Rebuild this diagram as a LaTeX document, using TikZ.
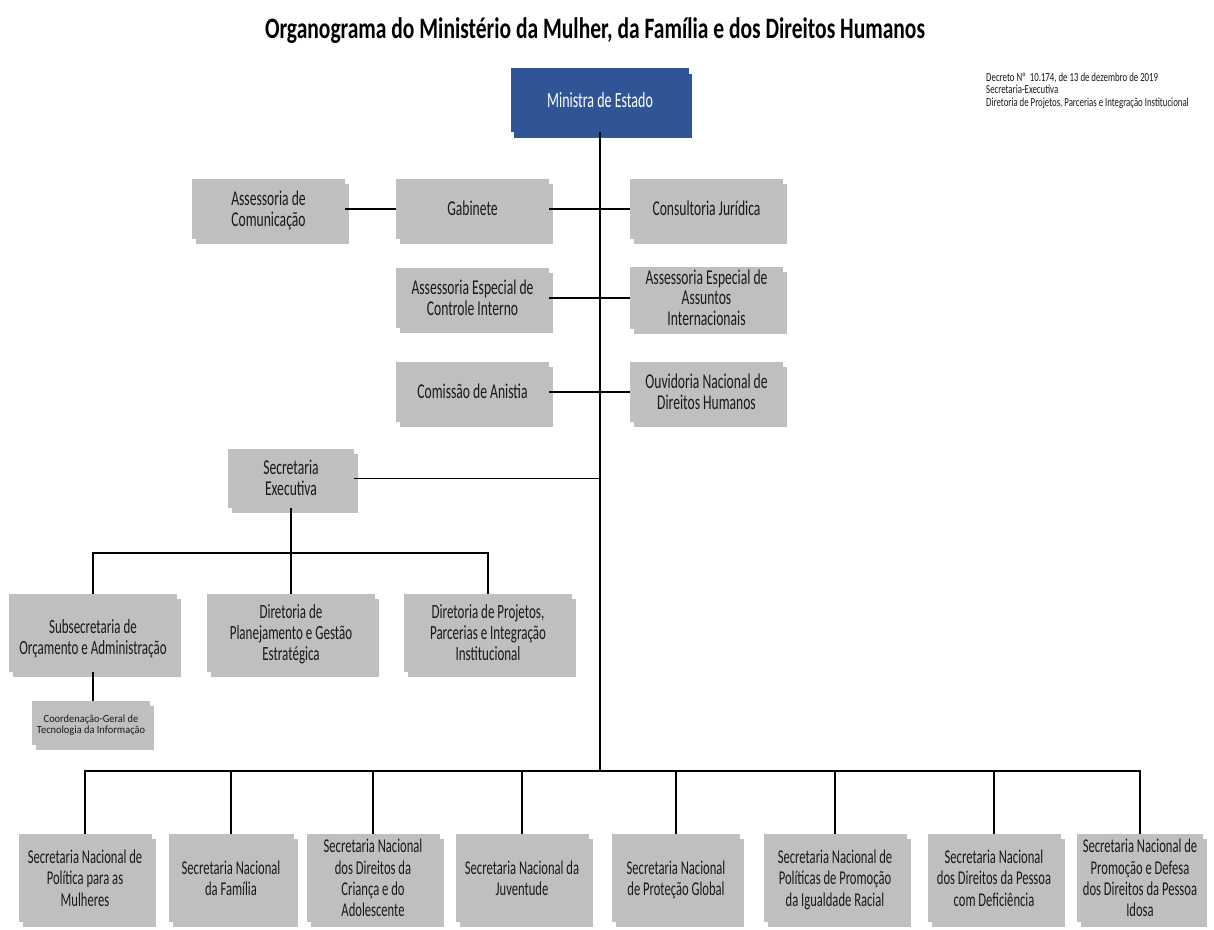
\documentclass[tikz,border=0pt]{standalone}
\usepackage{fontspec}
\setmainfont{Carlito}
\usepackage{graphicx}
\usetikzlibrary{shadows}
\definecolor{boxgray}{RGB}{191,191,191}
\definecolor{minblue}{RGB}{47,85,151}
\definecolor{txt}{RGB}{25,25,25}
\newcommand\bt[2][1.55]{\raisebox{-2.5pt}[\height][\depth]{\scalebox{1}[#1]{\begin{tabular}{@{}c@{}}#2\end{tabular}}}}
\tikzset{
  box/.style={fill=boxgray, draw=none, inner sep=0pt, align=center, text=txt,
    copy shadow={shadow xshift=4pt, shadow yshift=-5pt, fill=boxgray, draw=none}},
  midbox/.style={box, minimum width=153pt, minimum height=60pt, font=\fontsize{13.6}{12.9}\selectfont},
  subbox/.style={box, minimum width=168pt, minimum height=78pt, font=\fontsize{13}{13.4}\selectfont},
  botbox/.style={box, minimum height=88pt, font=\fontsize{12.6}{13.8}\selectfont},
  conn/.style={draw=black, line width=1.2pt}
}
\begin{document}
\begin{tikzpicture}[x=1pt,y=-1pt]
\useasboundingbox[fill=white] (0,0) rectangle (1214,929);
% title
\node (title) at (595,31) {\scalebox{1}[1.38]{\resizebox{660pt}{!}{\bfseries Organograma do Ministério da Mulher, da Família e dos Direitos Humanos}}};
% note
\node[anchor=north west, inner sep=0pt, font=\fontsize{8.8}{8.6}\selectfont, text=txt] (note) at (986,73)
  {\scalebox{1}[1.4]{\begin{tabular}{@{}l@{}}Decreto Nº\ \ 10.174, de 13 de dezembro de 2019\\Secretaria-Executiva\\Diretoria de Projetos, Parcerias e Integração Institucional\end{tabular}}};
% minister
\node[fill=minblue, inner sep=0pt, minimum width=178pt, minimum height=64pt, text=white,
  font=\fontsize{14}{15}\selectfont,
  copy shadow={shadow xshift=3pt, shadow yshift=-6pt, fill=minblue, draw=none}] (min) at (600,100) {\bt{Ministra de Estado}};
% middle rows
\node[midbox] (asc) at (268.5,209) {\bt{Assessoria de\\Comunicação}};
\node[midbox] (gab) at (472.5,209) {\bt{Gabinete}};
\node[midbox] (cons) at (706.5,209) {\bt{Consultoria Jurídica}};
\node[midbox] (aeci) at (472.5,298) {\bt{Assessoria Especial de\\Controle Interno}};
\node[midbox] (aeai) at (706.5,298) {\bt{Assessoria Especial de\\Assuntos\\Internacionais}};
\node[midbox] (com) at (472.5,392) {\bt{Comissão de Anistia}};
\node[midbox] (ouv) at (706.5,392) {\bt{Ouvidoria Nacional de\\Direitos Humanos}};
\node[midbox, minimum width=126pt, minimum height=59pt] (sec) at (291,478.5) {\bt{Secretaria\\Executiva}};
% executive subtree
\node[subbox] (sub) at (93,633) {\raisebox{-4pt}[\height][\depth]{\bt{Subsecretaria de\\Orçamento e Administração}}};
\node[subbox] (plan) at (291,633) {\bt{Diretoria de\\Planejamento e Gestão\\Estratégica}};
\node[subbox] (proj) at (488,633) {\bt{Diretoria de Projetos,\\Parcerias e Integração\\Institucional}};
\node[box, minimum width=118pt, minimum height=44pt, font=\fontsize{10.4}{11}\selectfont] (coord) at (91,723) {\bt[1.05]{Coordenação-Geral de\\Tecnologia da Informação}};
% bottom row
\node[botbox, minimum width=133pt] (s1) at (85,878) {\bt{Secretaria Nacional de\\Política para as\\Mulheres}};
\node[botbox, minimum width=125pt] (s2) at (231,878) {\bt{Secretaria Nacional\\da Família}};
\node[botbox, minimum width=133pt] (s3) at (373,878) {\bt{Secretaria Nacional\\dos Direitos da\\Criança e do\\Adolescente}};
\node[botbox, minimum width=133pt] (s4) at (522,878) {\bt{Secretaria Nacional da\\Juventude}};
\node[botbox, minimum width=128pt] (s5) at (676,878) {\bt{Secretaria Nacional\\de Proteção Global}};
\node[botbox, minimum width=143pt] (s6) at (835,878) {\bt{Secretaria Nacional de\\Políticas de Promoção\\da Igualdade Racial}};
\node[botbox, minimum width=133pt] (s7) at (994,878) {\bt{Secretaria Nacional\\dos Direitos da Pessoa\\com Deficiência}};
\node[botbox, minimum width=126pt] (s8) at (1140,878) {\bt{Secretaria Nacional de\\Promoção e Defesa\\dos Direitos da Pessoa\\Idosa}};
% connectors
\coordinate (bus) at (600,771);
\coordinate (sbus) at (291,553);
\draw[conn] (min.south) -- (bus);
\draw[conn] (asc.east) -- (gab.west);
\draw[conn] (gab.east) -- (cons.west);
\draw[conn] (aeci.east) -- (aeai.west);
\draw[conn] (com.east) -- (ouv.west);
\draw[conn] (sec.east) -- (sec.east -| min.south);
\draw[conn] (sec.south) -- (sbus);
\draw[conn] (sub.north) -- (sub.north |- sbus) -- (proj.north |- sbus) -- (proj.north);
\draw[conn] (plan.north) -- (plan.north |- sbus);
\draw[conn] (sub.south) -- (sub.south |- coord.north);
\draw[conn] (s1.north) -- (s1.north |- bus) -- (s8.north |- bus) -- (s8.north);
\foreach \n in {s2,s3,s4,s5,s6,s7}{\draw[conn] (\n.north) -- (\n.north |- bus);}
\end{tikzpicture}
\end{document}
